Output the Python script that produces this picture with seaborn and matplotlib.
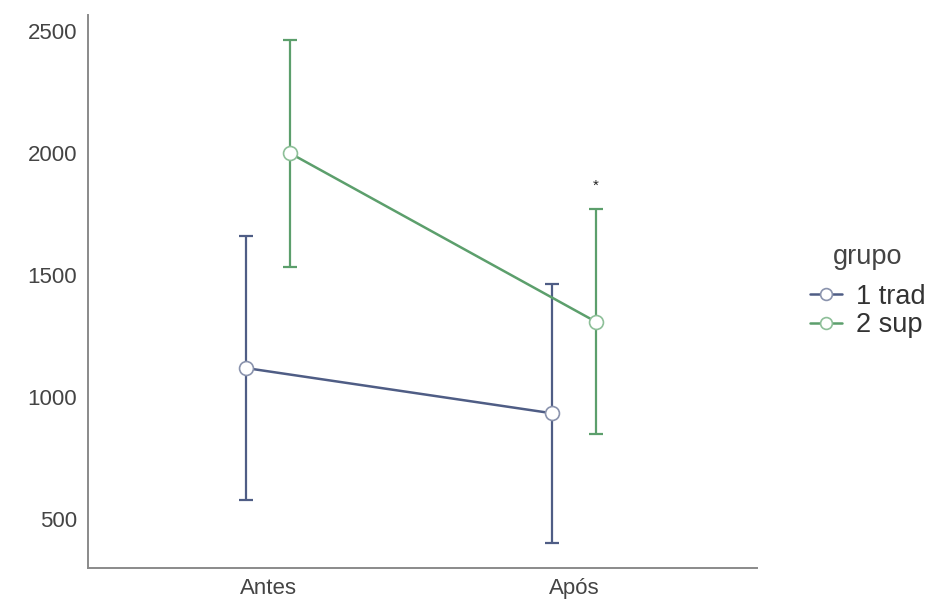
import pandas as pd
import matplotlib
matplotlib.use("Agg")
import matplotlib.pyplot as plt
import seaborn as sns

# ------------------------------------------------- dados
momentos = ["Antes", "Após"]
grupos = ["1 trad", "2 sup"]
media_trad = [1120, 935]
dp_trad = [540, 530]
media_sup = [2000, 1310]
dp_sup = [465, 460]
yticks = [500, 1000, 1500, 2000, 2500]

cores = {"1 trad": "#4f5d85", "2 sup": "#5c9f6c"}
bordas = {"1 trad": "#8a93ad", "2 sup": "#8dbf98"}
deslocamento = {"1 trad": -0.072, "2 sup": 0.072}

linhas = []
for g, medias, dps in [("1 trad", media_trad, dp_trad), ("2 sup", media_sup, dp_sup)]:
    for i, m in enumerate(momentos):
        linhas.append({"grupo": g, "momento": m, "pos": i + deslocamento[g],
                       "media": medias[i], "dp": dps[i]})
df = pd.DataFrame(linhas)

# ------------------------------------------------- figura
sns.set_style("white")
plt.rcParams["font.family"] = ["Liberation Sans", "DejaVu Sans"]

fig = plt.figure(figsize=(9.37, 6.09), dpi=100)
ax = fig.add_axes([0.094, 0.067, 0.714, 0.908])

for g in grupos:
    sub = df[df["grupo"] == g]
    ax.errorbar(sub["pos"], sub["media"], yerr=sub["dp"], fmt="none",
                ecolor=cores[g], elinewidth=1.6, capsize=5, capthick=1.6, zorder=2)

n_antes = len(ax.get_lines())
sns.lineplot(data=df, x="pos", y="media", hue="grupo", palette=cores,
             marker="o", markersize=10, markerfacecolor="white",
             markeredgewidth=1.2, linewidth=1.8, ax=ax, zorder=3)

# borda dos marcadores na cor do grupo, mais clara
for ln, g in zip(ax.get_lines()[n_antes:], grupos):
    ln.set_markeredgecolor(bordas[g])

# asterisco
ap = df[(df["grupo"] == "2 sup") & (df["momento"] == "Após")].iloc[0]
ax.text(ap["pos"], ap["media"] + ap["dp"] + 70, "*", ha="center", va="bottom",
        fontsize=11, color="#222222")

ax.set_xlim(-0.59, 1.6)
ax.set_ylim(300, 2566)
ax.set_xticks(range(len(momentos)))
ax.set_xticklabels(momentos)
ax.set_yticks(yticks)
ax.set_xlabel("")
ax.set_ylabel("")
ax.tick_params(axis="both", colors="#555555", labelsize=16, length=5, width=1.2,
               labelcolor="#444444", pad=3)
ax.tick_params(axis="x", length=4)
sns.despine(ax=ax)
for s in ["left", "bottom"]:
    ax.spines[s].set_color("#8a8a8a")
    ax.spines[s].set_linewidth(1.4)

h, l = ax.get_legend_handles_labels()
for hd, g in zip(h, grupos):
    hd.set_markeredgecolor(bordas[g])
ax.legend_.remove()
leg = fig.legend(h, l, title="grupo", loc="center left", bbox_to_anchor=(0.838, 0.522),
                 frameon=False, fontsize=19.5, title_fontsize=19.5, handlelength=1.2,
                 handletextpad=0.5, labelspacing=0.1, markerscale=0.85)
leg._legend_box.sep = 10
for t in leg.get_texts():
    t.set_color("#333333")
leg.get_title().set_color("#444444")

fig.savefig("out.png", dpi=100)
